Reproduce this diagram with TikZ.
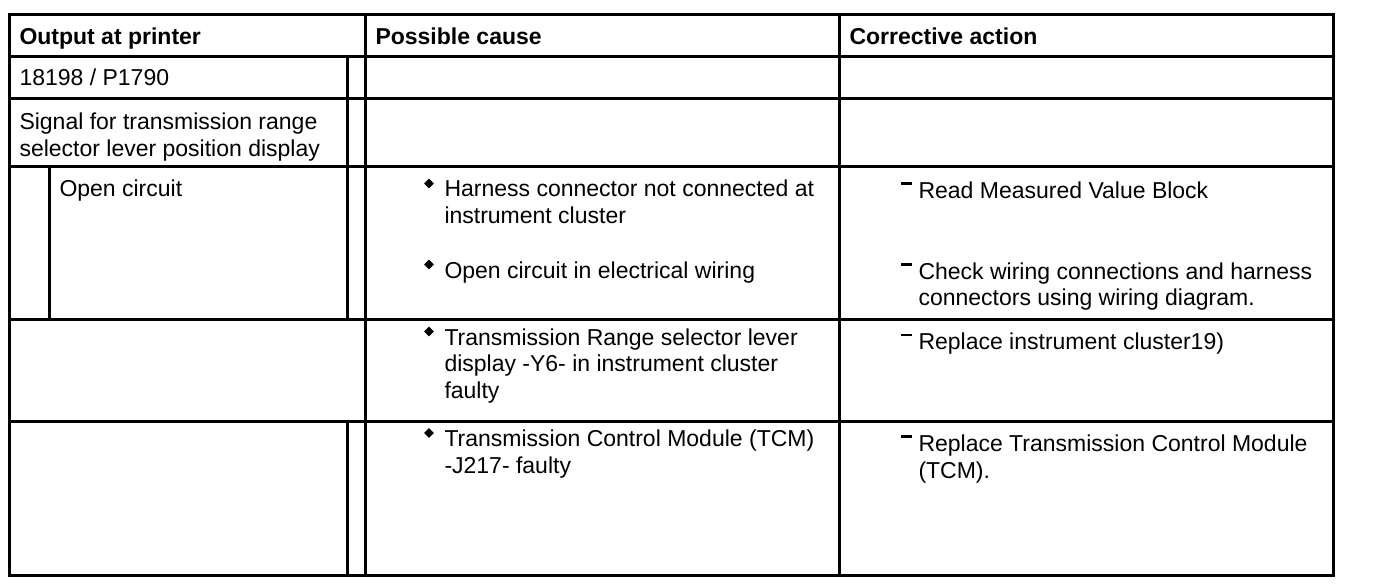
\documentclass[tikz,border=0pt]{standalone}
\usepackage{fontspec}
\setmainfont{Liberation Sans}
\usetikzlibrary{shapes.geometric}

\begin{document}
\begin{tikzpicture}[x=0.5pt,y=-0.5pt,line width=1.5pt,
  every node/.style={anchor=base west,inner sep=0pt,font=\fontsize{11.5}{13.3}\selectfont},
  head/.style={font=\fontsize{11.5}{13.3}\selectfont\bfseries},
  bul/.style={shape=diamond,fill=black,minimum size=5.6pt,anchor=center},
  dsh/.style={shape=rectangle,fill=black,minimum width=5.5pt,minimum height=1.4pt,anchor=center}]
  \useasboundingbox (0,0) rectangle (1376,588);
  % grid
  \draw (9,15) rectangle (1333,575.5);
  \draw (9,57) -- (1333,57) (9,99) -- (1333,99) (9,167) -- (1333,167)
  (9,319.5) -- (1333,319.5) (9,421.5) -- (1333,421.5);
  \draw (365,15) -- (365,575.5) (839.5,15) -- (839.5,575.5);
  \draw (347.5,57) -- (347.5,319.5) (347.5,421.5) -- (347.5,575.5);
  \draw (49.5,167) -- (49.5,319.5);
  % header
  \path (18,45) node[head] (h1) {Output at printer} (374,45) node[head] (h2) {Possible cause}
  (848,45) node[head] (h3) {Corrective action};
  % output at printer
  \path (18,86) node (o1) {18198 / P1790} (18,130) node (o2) {Signal for transmission range}
  (18,156.5) node (o3) {selector lever position display} (58,196.5) node (o4) {Open circuit};
  % possible cause
  \path (429,183.5) node[bul] (b1) {} (443,197) node (c1) {Harness connector not connected at}
  (443,223.5) node (c2) {instrument cluster};
  \path (429,264.5) node[bul] (b2) {} (443,278.3) node (c3) {Open circuit in electrical wiring};
  \path (429,331.5) node[bul] (b3) {} (443,345) node (c4) {Transmission Range selector lever}
  (443,371.7) node (c5) {display -Y6- in instrument cluster} (443,398.3) node (c6) {faulty};
  \path (429,433) node[bul] (b4) {} (443,446.7) node (c7) {Transmission Control Module (TCM)}
  (443,473.3) node (c8) {-J217- faulty};
  % corrective action
  \path (906.5,183.3) node[dsh] (d1) {} (917,198.3) node (a1) {Read Measured Value Block};
  \path (906.5,264.5) node[dsh] (d2) {} (917,279.5) node (a2) {Check wiring connections and harness}
  (917,306) node (a3) {connectors using wiring diagram.};
  \path (906.5,335) node[dsh] (d3) {} (917,350) node (a4) {Replace instrument cluster19)};
  \path (906.5,436.7) node[dsh] (d4) {} (917,451.7) node (a5) {Replace Transmission Control Module}
  (917,478.3) node (a6) {(TCM).};
\end{tikzpicture}
\end{document}
